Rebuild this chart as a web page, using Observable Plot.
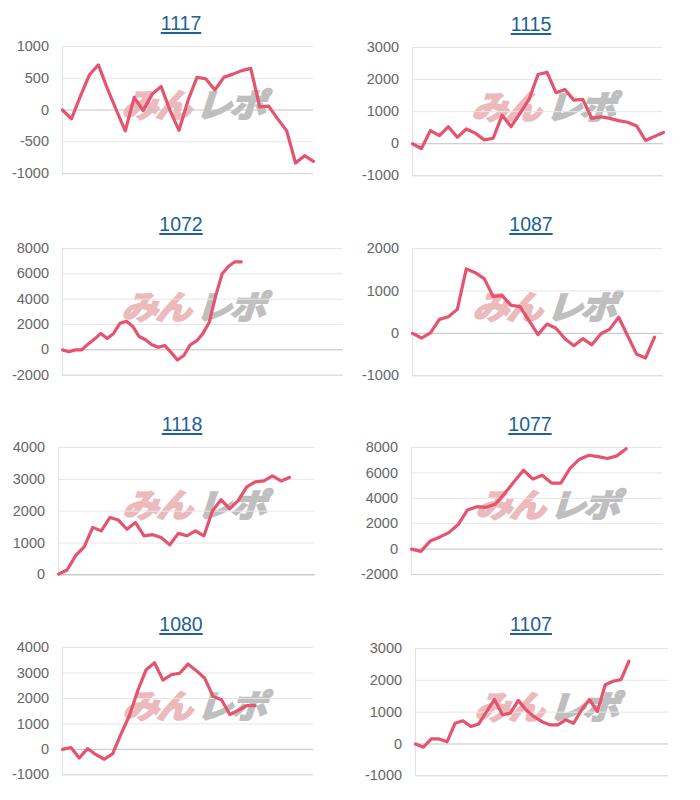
<!DOCTYPE html>
<html>
<head>
<meta charset="utf-8">
<script src="https://cdn.jsdelivr.net/npm/d3@7"></script>
<script src="https://cdn.jsdelivr.net/npm/@observablehq/plot@0.6"></script>
<style>
  html, body { margin: 0; padding: 0; background: #fff; }
  #root { position: relative; width: 700px; height: 800px; overflow: hidden; }
  .title { position: absolute; font-family: "Liberation Sans", Arial, sans-serif; font-size: 19.5px; line-height: 22px; color: #20609a; text-decoration: underline; text-underline-offset: 2px; text-decoration-thickness: 1.5px; white-space: nowrap; transform: translateX(-50%); }
  .wm { position: absolute; font-family: "Noto Sans CJK JP", sans-serif; font-weight: 700; font-size: 36px; line-height: 1; white-space: nowrap; letter-spacing: -2px; transform: translate(-50%, -50%) skewX(-18deg) scaleY(0.9); z-index: 0; }
  .wm .a { color: #ecb9bd; -webkit-text-stroke: 2.5px #ecb9bd; }
  .wm .b { color: #bfbfbf; -webkit-text-stroke: 2.5px #bfbfbf; margin-left: 6px; }
  .panel { position: absolute; z-index: 1; }
</style>
</head>
<body>
<div id="root"></div>
<script>
// ---- data ----
const titles = ["1117", "1115", "1072", "1087", "1118", "1077", "1080", "1107"];
const labelCounts = [29, 29, 45, 29, 31, 28, 31, 33];

const v1117 = [0, -140, 220, 555, 710, 340, 0, -330, 200, -10, 250, 370, -10, -320, 150, 515, 490, 315, 515, 565, 620, 655, 50, 60, -140, -325, -835, -720, -810];
const v1115 = [0, -150, 410, 250, 530, 200, 460, 330, 120, 170, 890, 530, 950, 1380, 2160, 2230, 1590, 1690, 1360, 1380, 790, 840, 790, 720, 670, 555, 100, 230, 350];
const v1072 = [0, -150, 0, 0, 450, 850, 1300, 900, 1300, 2100, 2250, 1850, 1050, 800, 400, 200, 350, -200, -800, -450, 400, 700, 1300, 2200, 4300, 6000, 6600, 6950, 6950];
const v1087 = [0, -110, 10, 330, 390, 565, 1520, 1430, 1290, 870, 890, 660, 630, 300, -30, 220, 120, -125, -290, -125, -270, -15, 100, 380, -55, -490, -580, -90];
const v1118 = [20, 150, 600, 880, 1490, 1380, 1800, 1720, 1430, 1640, 1225, 1260, 1170, 940, 1300, 1225, 1380, 1225, 2010, 2360, 2070, 2330, 2760, 2920, 2950, 3110, 2950, 3060];
const v1077 = [0, -180, 630, 940, 1300, 1930, 3080, 3340, 3290, 3550, 4390, 5330, 6210, 5510, 5820, 5200, 5200, 6370, 7080, 7390, 7280, 7130, 7340, 7910];
const v1080 = [0, 70, -340, 30, -210, -390, -170, 610, 1330, 2310, 3130, 3400, 2720, 2930, 2990, 3350, 3090, 2790, 2080, 1950, 1370, 1530, 1720, 1720];
const v1107 = [0, -100, 160, 160, 70, 650, 730, 550, 630, 1020, 1400, 920, 970, 1370, 1070, 860, 700, 600, 600, 760, 650, 1070, 1400, 1020, 1860, 1970, 2020, 2600];
const series = [v1117, v1115, v1072, v1087, v1118, v1077, v1080, v1107];

const ticks1117 = [-1000, -500, 0, 500, 1000];
const ticks1115 = [-1000, 0, 1000, 2000, 3000];
const ticks1072 = [-2000, 0, 2000, 4000, 6000, 8000];
const ticks1087 = [-1000, 0, 1000, 2000];
const ticks1118 = [0, 1000, 2000, 3000, 4000];
const ticks1077 = [-2000, 0, 2000, 4000, 6000, 8000];
const ticks1080 = [-1000, 0, 1000, 2000, 3000, 4000];
const ticks1107 = [-1000, 0, 1000, 2000, 3000];
const tickSets = [ticks1117, ticks1115, ticks1072, ticks1087, ticks1118, ticks1077, ticks1080, ticks1107];

const watermarkA = "みん";
const watermarkB = "レポ";

// ---- layout (pixel placement of each small chart) ----
const layout = [
  {left: 62,   right: 313, top: 45.7,  bottom: 172.7, tx: 181, tb: 30,    wx: 197, wy: 103},
  {left: 412,  right: 663, top: 46.7,  bottom: 175,   tx: 531, tb: 30.5,  wx: 547, wy: 105},
  {left: 62,   right: 343, top: 248.3, bottom: 375,   tx: 181, tb: 231,   wx: 197, wy: 305},
  {left: 412,  right: 663, top: 247.7, bottom: 375,   tx: 531, tb: 231,   wx: 548, wy: 305},
  {left: 58.3, right: 315, top: 446.7, bottom: 574,   tx: 182, tb: 430.5, wx: 198, wy: 503},
  {left: 411,  right: 663, top: 447,   bottom: 574,   tx: 530, tb: 430.5, wx: 551, wy: 503},
  {left: 62,   right: 313, top: 646.7, bottom: 774,   tx: 181, tb: 630.5, wx: 198, wy: 704},
  {left: 415,  right: 668, top: 647.7, bottom: 775,   tx: 531, tb: 630.5, wx: 550, wy: 705}
];

const root = document.getElementById("root");

titles.forEach((title, k) => {
  const L = layout[k];
  const vals = series[k];
  const ticks = tickSets[k];
  const data = vals.map((v, i) => ({i, v}));
  const yMin = d3.min(ticks), yMax = d3.max(ticks);

  // title
  const t = document.createElement("div");
  t.className = "title";
  t.textContent = title;
  t.style.left = L.tx + "px";
  t.style.top = (L.tb - 17.6) + "px";
  root.appendChild(t);

  // watermark
  const wm = document.createElement("div");
  wm.className = "wm";
  wm.innerHTML = `<span class="a">${watermarkA}</span><span class="b">${watermarkB}</span>`;
  wm.style.left = L.wx + "px";
  wm.style.top = L.wy + "px";
  root.appendChild(wm);

  // chart
  const svgLeft = L.left - 60;
  const mT = 10, mB = 10, mR = 10;
  const chart = Plot.plot({
    width: L.right - svgLeft + mR,
    height: L.bottom - L.top + mT + mB,
    marginLeft: L.left - svgLeft,
    marginRight: mR,
    marginTop: mT,
    marginBottom: mB,
    style: {fontFamily: "'Liberation Sans', Arial, sans-serif", fontSize: "14.5px", color: "#666", background: "transparent", overflow: "visible"},
    x: {domain: [0, labelCounts[k] - 1], axis: null},
    y: {domain: [yMin, yMax], axis: null},
    marks: [
      Plot.gridY(ticks.filter(d => d !== 0 && d !== yMin), {stroke: "#e6e6e6", strokeOpacity: 1}),
      Plot.ruleY([yMin], {stroke: "#d2d2d2"}),
      Plot.ruleX([0], {stroke: "#e2e2e2", y1: yMin, y2: yMax}),
      Plot.ruleY([0], {stroke: "#c2c2c2"}),
      Plot.axisY(ticks, {tickSize: 0, tickPadding: 13.5, tickFormat: d => String(d), label: null, fill: "#666", fontSize: 14.5}),
      Plot.line(data, {x: "i", y: "v", stroke: "#e6536e", strokeWidth: 3.2, strokeLinejoin: "round", strokeLinecap: "round"})
    ]
  });
  chart.classList.add("panel");
  chart.style.left = svgLeft + "px";
  chart.style.top = (L.top - mT) + "px";
  root.appendChild(chart);
});
</script>
</body>
</html>
